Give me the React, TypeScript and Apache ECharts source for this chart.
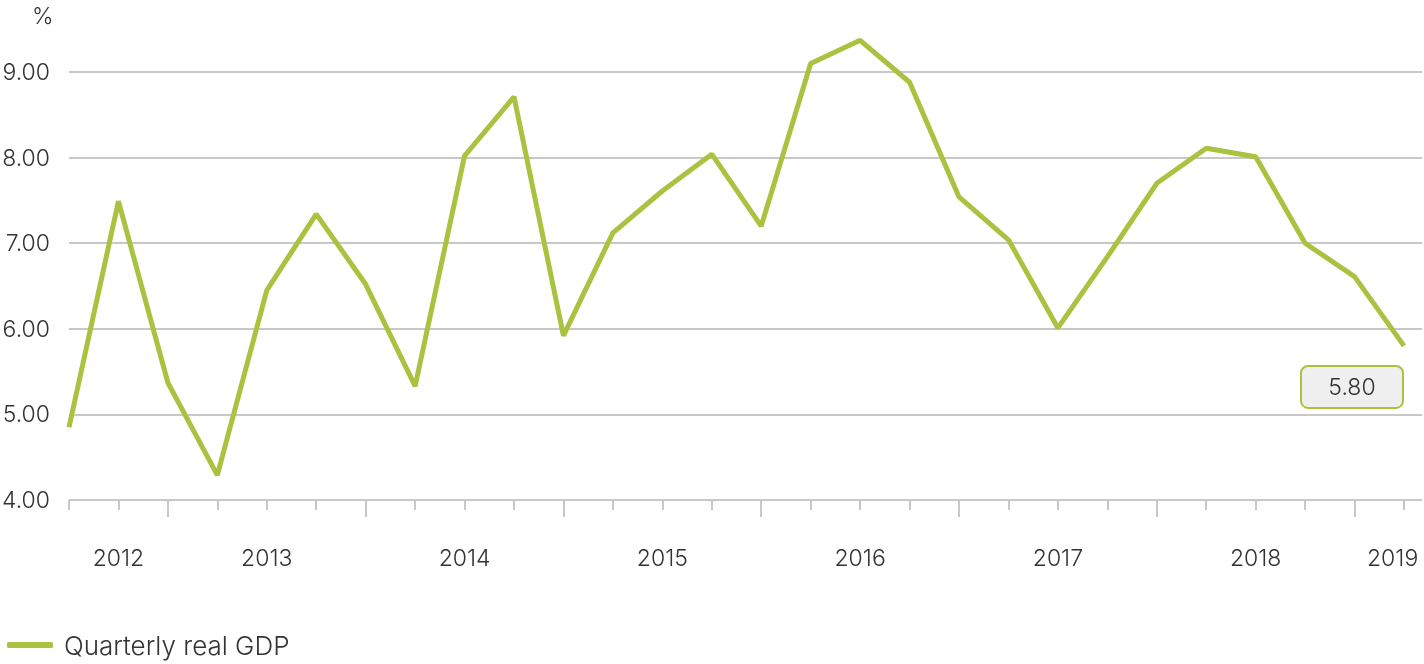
import React, { useEffect, useRef } from "react";
import * as echarts from "echarts";

const quarters = [
  "2012Q1","2012Q2","2012Q3","2012Q4","2013Q1","2013Q2","2013Q3","2013Q4",
  "2014Q1","2014Q2","2014Q3","2014Q4","2015Q1","2015Q2","2015Q3","2015Q4",
  "2016Q1","2016Q2","2016Q3","2016Q4","2017Q1","2017Q2","2017Q3","2017Q4",
  "2018Q1","2018Q2","2018Q3","2018Q4",
];
const tickLabels = [
  "", "2012", "", "", "2013", "", "", "",
  "2014", "", "", "", "2015", "", "", "",
  "2016", "", "", "", "2017", "", "", "",
  "2018", "", "", "2019",
];
const gdp = [
  4.85, 7.49, 5.37, 4.29, 6.45, 7.34, 6.52, 5.33,
  8.02, 8.71, 5.92, 7.12, 7.61, 8.04, 7.20, 9.10,
  9.37, 8.88, 7.54, 7.04, 6.01, 6.84, 7.70, 8.11,
  8.01, 7.00, 6.61, 5.80,
];
const yTicks = { min: 4, max: 9, interval: 1 };
const seriesName = "Quarterly real GDP";

const GREEN = "#a9c23f";
const GRID = "#c8c8c8";
const TEXT = "#333333";
const FONT = "Inter, 'Liberation Sans', Arial, sans-serif";
const W = 300;
const FS = 23;

export default function App() {
  const ref = useRef<HTMLDivElement>(null);
  useEffect(() => {
    const chart = echarts.init(ref.current!, null, { renderer: "svg" });
    const last = gdp.length - 1;
    chart.setOption({
      animation: false,
      textStyle: { fontFamily: FONT, fontWeight: W },
      title: {
        text: "%",
        left: 27,
        top: -1,
        textStyle: { fontSize: FS, fontWeight: W, color: TEXT, fontFamily: FONT },
      },
      legend: {
        left: 2,
        bottom: 1,
        icon: "roundRect",
        itemWidth: 46,
        itemHeight: 6,
        textStyle: { fontSize: 26, fontWeight: W, color: TEXT, padding: [0, 0, 0, 6], fontFamily: FONT },
        data: [seriesName],
      },
      grid: [
        { left: 69, right: 20, top: 72, bottom: 164, outerBoundsMode: "none", containLabel: false },
        { left: 69, right: 2, top: 72, bottom: 164, outerBoundsMode: "none", containLabel: false },
      ],
      xAxis: [
        {
          type: "category",
          gridIndex: 0,
          position: "bottom",
          data: quarters,
          boundaryGap: false,
          axisLine: { show: false },
          axisTick: { show: true, length: 10, interval: 0, lineStyle: { color: GRID, width: 2 } },
          axisLabel: {
            interval: 0,
            margin: 46,
            fontSize: FS,
            fontWeight: W,
            color: TEXT,
            fontFamily: FONT,
            hideOverlap: false,
            formatter: (_v: string, i: number) =>
              i === last ? "{r|" + tickLabels[i] + "}" : tickLabels[i],
            rich: {
              r: { fontSize: FS, fontWeight: W, color: TEXT, fontFamily: FONT, width: 74, align: "left" },
            },
          },
          splitLine: { show: false },
        },
        {
          type: "category",
          gridIndex: 0,
          position: "bottom",
          data: quarters,
          boundaryGap: false,
          axisLine: { show: false },
          axisTick: {
            show: true,
            length: 17,
            interval: (i: number) => i % 4 === 2,
            lineStyle: { color: GRID, width: 2 },
          },
          axisLabel: { show: false },
          splitLine: { show: false },
        },
        { type: "value", gridIndex: 1, show: false, min: 0, max: 1 },
      ],
      yAxis: [
        {
          type: "value",
          gridIndex: 0,
          min: yTicks.min,
          max: yTicks.max,
          interval: yTicks.interval,
          axisLine: { show: false },
          axisTick: { show: false },
          splitLine: { show: false },
          axisLabel: {
            margin: 19,
            fontSize: FS,
            fontWeight: W,
            color: TEXT,
            fontFamily: FONT,
            formatter: (v: number) => v.toFixed(2),
          },
        },
        {
          type: "value",
          gridIndex: 1,
          min: yTicks.min,
          max: yTicks.max,
          interval: yTicks.interval,
          axisLine: { show: false },
          axisTick: { show: false },
          axisLabel: { show: false },
          splitLine: { show: true, lineStyle: { color: GRID, width: 2 } },
        },
      ],
      series: [
        {
          name: seriesName,
          type: "line",
          xAxisIndex: 0,
          yAxisIndex: 0,
          data: gdp,
          clip: false,
          showSymbol: false,
          symbol: "none",
          lineStyle: { color: GREEN, width: 5 },
          itemStyle: { color: GREEN },
          markPoint: {
            symbol: "circle",
            symbolSize: 1,
            itemStyle: { color: "rgba(0,0,0,0)" },
            label: {
              show: true,
              position: "inside",
              offset: [-52, 41],
              formatter: (p: any) => Number(p.value).toFixed(2),
              fontSize: FS,
              fontWeight: W,
              lineHeight: 22,
              color: TEXT,
              fontFamily: FONT,
              backgroundColor: "#efefef",
              borderColor: GREEN,
              borderWidth: 2,
              borderRadius: 6,
              width: 100,
              align: "center",
              verticalAlign: "middle",
              padding: [9, 0],
            },
            data: [{ coord: [last, gdp[last]], value: gdp[last] }],
          },
        },
      ],
    });
    return () => chart.dispose();
  }, []);
  return (
    <div
      ref={ref}
      style={{ position: "fixed", left: 0, top: 0, width: 1424, height: 664 }}
    />
  );
}
